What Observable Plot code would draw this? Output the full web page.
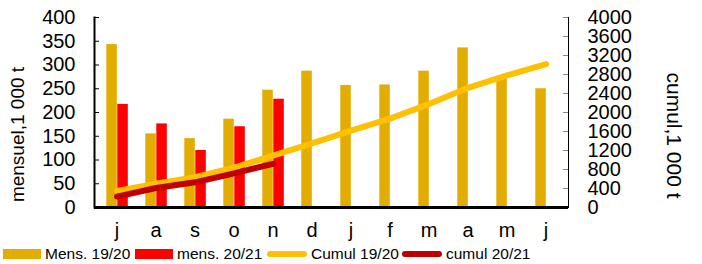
<!DOCTYPE html>
<html>
<head>
<meta charset="utf-8">
<script src="https://cdn.jsdelivr.net/npm/d3@7"></script>
<script src="https://cdn.jsdelivr.net/npm/@observablehq/plot@0.6"></script>
<style>
  body { margin: 0; background: #fff; font-family: "Liberation Sans", Arial, sans-serif; }
  #wrap { position: relative; width: 702px; height: 264px; }
  #legend { position: absolute; left: 0; top: 244px; width: 702px; height: 20px; font-size: 15.5px; color: #000; }
  .item { position: absolute; top: 0; height: 20px; display: flex; align-items: center; }
  .sw { display: inline-block; margin-right: 4px; }
</style>
</head>
<body>
<div id="wrap">
  <div id="chart"></div>
  <div id="legend"></div>
</div>
<script>
const months = ["j","a","s","o","n","d","j","f","m","a","m","j"];
const mens1920 = [343,155,145,186,247,287,257,258,287,336,270,250];
const mens2021 = [217,176,120,170,228];
const cumul1920 = [350,500,640,840,1090,1350,1620,1870,2180,2520,2780,3020];
const cumul2021 = [230,410,530,720,920];
const leftTicks = [0,50,100,150,200,250,300,350,400];
const rightTicks = [0,400,800,1200,1600,2000,2400,2800,3200,3600,4000];
const seriesNames = ["Mens. 19/20","mens. 20/21","Cumul 19/20","cumul 20/21"];
const colors = ["#E3AC00","#FF0000","#FFC000","#C00000"];

const idx = months.map((_, i) => i);
const d1 = mens1920.map((v, i) => ({i, v}));
const d2 = mens2021.map((v, i) => ({i, v}));
const c1 = cumul1920.map((v, i) => ({i, v: v / 10}));
const c2 = cumul2021.map((v, i) => ({i, v: v / 10}));

const chart = Plot.plot({
  width: 702,
  height: 244,
  marginLeft: 94,
  marginRight: 134,
  marginTop: 17,
  marginBottom: 37,
  style: {fontFamily: '"Liberation Sans", Arial, sans-serif', fontSize: "20px", color: "#000", background: "#fff"},
  x: {type: "band", domain: idx, padding: 0, axis: null, label: null},
  y: {domain: [0, 400], axis: null, label: null},
  marks: [
    Plot.barY(d1, {x: "i", y: "v", fill: colors[0], insetLeft: 9.3, insetRight: 19.2}),
    Plot.barY(d2, {x: "i", y: "v", fill: colors[1], insetLeft: 20.3, insetRight: 8.2}),
    Plot.line(c1, {x: "i", y: "v", stroke: colors[2], strokeWidth: 6, strokeLinecap: "round", strokeLinejoin: "round"}),
    Plot.line(c2, {x: "i", y: "v", stroke: colors[3], strokeWidth: 6, strokeLinecap: "round", strokeLinejoin: "round"}),
    // x axis labels
    Plot.axisX(idx, {x: d => d, tickSize: 0, tickPadding: 15, tickFormat: i => months[i], fontSize: 20, label: null}),
    // left axis
    Plot.axisY({ticks: leftTicks, anchor: "left", tickSize: 5, dx: 5, tickFormat: () => "", stroke: "#000", label: null}),
    Plot.axisY({ticks: leftTicks, anchor: "left", tickSize: 0, tickPadding: 19, fontSize: 20, label: null}),
    // right axis (cumul, scaled x10)
    Plot.axisY({ticks: rightTicks.map(d => d / 10), anchor: "right", tickSize: 6, dx: -6, tickFormat: () => "", stroke: "#888", label: null}),
    Plot.axisY({ticks: rightTicks.map(d => d / 10), anchor: "right", tickSize: 0, tickPadding: 19, tickFormat: d => String(d * 10), fontSize: 20, label: null}),
    Plot.frame({anchor: "left", stroke: "#000", strokeWidth: 2}),
    Plot.frame({anchor: "right", stroke: "#000", strokeWidth: 1}),
    Plot.ruleY([0], {stroke: "#000", strokeWidth: 3}),
    // axis titles
    Plot.text(["mensuel,1 000 t"], {frameAnchor: "left", textAnchor: "middle", rotate: -90, dx: -77, dy: 22, fontSize: 19}),
    Plot.text(["cumul,1 000 t"], {frameAnchor: "right", textAnchor: "middle", rotate: 90, dx: 105, dy: 23, fontSize: 21})
  ]
});
document.getElementById("chart").appendChild(chart);

const legend = document.getElementById("legend");
const lefts = [3, 135, 267, 402];
seriesNames.forEach((name, k) => {
  const it = document.createElement("div");
  it.className = "item";
  it.style.left = lefts[k] + "px";
  const sw = document.createElement("span");
  sw.className = "sw";
  if (k < 2) {
    sw.style.width = "38px"; sw.style.height = "10px"; sw.style.background = colors[k];
  } else {
    sw.style.width = "40px"; sw.style.height = "6px"; sw.style.borderRadius = "3px"; sw.style.background = colors[k];
  }
  it.appendChild(sw);
  const t = document.createElement("span");
  t.textContent = name;
  it.appendChild(t);
  legend.appendChild(it);
});
</script>
</body>
</html>
